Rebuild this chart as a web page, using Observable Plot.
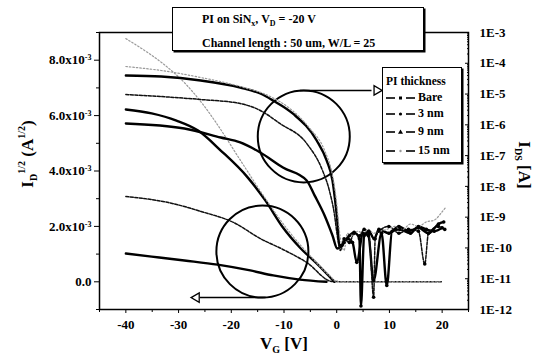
<!DOCTYPE html>
<html><head><meta charset="utf-8">
<script src="https://cdn.jsdelivr.net/npm/d3@7"></script>
<script src="https://cdn.jsdelivr.net/npm/@observablehq/plot@0.6"></script>
<style>
body{margin:0;background:#fff;}
#wrap{position:relative;width:550px;height:357px;font-family:"Liberation Serif","Times New Roman",serif;font-weight:bold;}
#wrap svg{position:absolute;left:0;top:0;}
.box{position:absolute;background:#fff;border:1.5px solid #000;box-shadow:1.5px 1.5px 0 #000;box-sizing:border-box;}
.ln{position:absolute;white-space:nowrap;font-size:12px;line-height:12px;}
.ln sub{font-size:8px;vertical-align:-3px;line-height:0;}
</style></head><body><div id="wrap"></div>
<script>
// ---------- data ----------
const thickness = ["Bare", "3 nm", "9 nm", "15 nm"];

// log-scale transfer curves, I_DS [A] (right axis)
const logBareV = [-40,-28.9,-22,-18.3,-14.5,-10.2,-5.7,-4.2,-2.3,-0.8,0.1,1.0,2.0,3.0,3.8,5.0,6.0,7.0,8.5,9.5,10.5,12.0,14.0,15.5,17.0,18.5,20.0];
const logBareI = [1.11e-6,7.6e-7,3.88e-7,2.67e-7,1.26e-7,4.1e-8,1.56e-8,5.1e-9,1.13e-9,2.54e-10,9.6e-11,1.2e-10,2e-10,1.5e-10,3.4e-11,3e-10,2.5e-10,8.7e-12,3e-10,6e-12,3.5e-10,4e-10,3e-10,5e-10,4e-10,3.5e-10,4.5e-10];
const log3V = [-40,-33.3,-25.8,-18.3,-14.5,-10.8,-5.7,-2.7,-1.4,-0.4,0.1,0.7,1.4,2.4,3.3,4.3,5.2,6.1,7.0,7.3,8.0,9.9,11.8,13.6,15.5,16.7,17.4,19.3,20.5];
const log3I = [9.7e-6,8.3e-6,6.65e-6,4.93e-6,2.92e-6,1.11e-6,2.48e-7,3.3e-8,7.4e-9,1.13e-9,2.54e-10,8.3e-11,2e-10,1.5e-10,3e-10,2.5e-10,4e-10,3e-10,2.5e-12,2e-10,3.5e-10,5e-10,3e-10,4e-10,3.5e-10,3e-11,3e-10,5e-10,4e-10];
const log9V = [-40,-33.3,-25.8,-18.3,-14.5,-12.1,-8.3,-3.8,-1.9,-0.8,-0.3,0.1,0.5,1.4,2.4,3.3,4.3,4.6,5.2,6.1,7.1,8.0,9.9,11.8,13.6,15.5,17.4,19.3,20.3];
const log9I = [4.0e-5,3.7e-5,2.75e-5,1.63e-5,1.04e-5,6.2e-6,2.3e-6,3.1e-7,6.9e-8,1.56e-8,3.5e-9,7.8e-10,1.2e-10,1.5e-10,2.5e-10,3.2e-10,2e-10,1.3e-12,2.5e-10,3.5e-10,2e-10,4e-10,3e-10,5e-10,3.5e-10,4.5e-10,3e-10,6e-10,7e-10];
const log15V = [-40,-33.3,-25.8,-18.3,-12.6,-8.9,-5.1,-2.3,-0.8,-0.06,0.5,1.4,2.0,3.0,4.0,5.0,6.0,7.0,8.0,9.5,11.0,12.5,14.0,15.5,17.0,18.5,20.0,20.6];
const log15I = [7.85e-5,5.82e-5,3.45e-5,1.76e-5,8.3e-6,3.4e-6,7.6e-7,1.47e-7,2.26e-8,3.5e-9,3.7e-10,8.3e-11,3e-10,2.5e-10,3.5e-10,3e-10,4e-10,3e-10,3.5e-10,4e-10,5e-10,4e-10,6e-10,5e-10,7e-10,8e-10,1.5e-9,2e-9];

// square-root curves, I_D^1/2 [A^1/2] (left axis)
const sqrtBareV = [-40,-35.1,-28.9,-22.6,-16.4,-12.05,-7,-1.94];
const sqrtBareS = [1.02e-3,0.91e-3,0.77e-3,0.62e-3,0.41e-3,0.23e-3,0.08e-3,0];
const sqrt3V = [-40,-31.9,-25.75,-19.55,-14.5,-9.8,-5.7,-0.8,5,10,15,20];
const sqrt3S = [3.08e-3,2.86e-3,2.54e-3,2.14e-3,1.56e-3,1.13e-3,0.70e-3,0.01e-3,0,0,0,0];
const sqrt9V = [-40,-35.1,-30.4,-26.3,-22,-16.9,-13.55,-10.2,-7,-3.8,-0.44];
const sqrt9S = [6.22e-3,6.08e-3,5.82e-3,5.46e-3,4.74e-3,3.77e-3,2.94e-3,1.96e-3,1.24e-3,0.66e-3,0];
const sqrt15V = [-40,-37,-33.25,-28.9,-25.2,-22.9,-18.25,-13.55,-8.9,-5.1,-1.4,0.1,5,10,15,20];
const sqrt15S = [8.78e-3,8.42e-3,7.92e-3,7.19e-3,6.36e-3,5.75e-3,4.38e-3,3.01e-3,1.78e-3,0.95e-3,0.23e-3,0,0,0,0,0];

// axes
const xTicks = [-40,-30,-20,-10,0,10,20];
const xMinor = [-45,-35,-25,-15,-5,5,15,25];
const leftTicks = [0,2e-3,4e-3,6e-3,8e-3];
const leftMinor = [-1e-3,1e-3,3e-3,5e-3,7e-3,9e-3];
const rightTicks = [1e-3,1e-4,1e-5,1e-6,1e-7,1e-8,1e-9,1e-10,1e-11,1e-12];

// annotations (circles and arrows)
const circleV = [-6.25, -14.1];
const circleS = [5.25e-3, 1.09e-3];
const arrowFrom = [-7, -13.5];
const arrowTo = [6.6, -26];
const arrowHead = [7.6, -26.6];
const arrowS = [6.91e-3, -0.57e-3];
const arrowRot = [90, -90];

// ---------- styles ----------
const st = {
  "Bare":  {stroke:"#000", w:2.4, dash:null},
  "3 nm":  {stroke:"#111", w:1.5, dash:"3,1.5"},
  "9 nm":  {stroke:"#000", w:2.4, dash:null},
  "15 nm": {stroke:"#9a9a9a", w:1.2, dash:"1.5,2"}
};
const rows = (n, vs, ys) => vs.map((v,i) => ({thickness:n, vg:v, val:ys[i]}));
const W = 550, H = 357, M = {left:99, right:82, top:32, bottom:48};
const font = {fontFamily:'"Liberation Serif","Times New Roman",serif', fontSize:"13px", fontWeight:"bold", background:"transparent", overflow:"visible", color:"#000"};

const sqrtSeries = [["Bare",sqrtBareV,sqrtBareS],["3 nm",sqrt3V,sqrt3S],["9 nm",sqrt9V,sqrt9S],["15 nm",sqrt15V,sqrt15S]];
const logSeries = [["Bare",logBareV,logBareI],["3 nm",log3V,log3I],["9 nm",log9V,log9I],["15 nm",log15V,log15I]];

const circles = circleV.map((v,i) => ({v, s:circleS[i]}));
const arrows = arrowFrom.map((v,i) => ({x1:v, x2:arrowTo[i], hx:arrowHead[i], s:arrowS[i], rot:arrowRot[i]}));

const chart1 = Plot.plot({
  width:W, height:H, marginLeft:M.left, marginRight:M.right, marginTop:M.top, marginBottom:M.bottom,
  style: font,
  x:{domain:[-45,25]},
  y:{domain:[-1e-3,9e-3]},
  marks:[
    ...sqrtSeries.map(([n,v,s]) => Plot.line(rows(n,v,s), {x:"vg", y:"val", stroke:st[n].stroke, strokeWidth:st[n].w, strokeDasharray:st[n].dash, curve:"monotone-x"})),
    Plot.dot(circles, {x:"v", y:"s", r:46, stroke:"#000", strokeWidth:2, fill:"none"}),
    Plot.link(arrows, {x1:"x1", x2:"x2", y1:"s", y2:"s", stroke:"#000", strokeWidth:1.5}),
    Plot.dot(arrows, {x:"hx", y:"s", symbol:"triangle", r:3.5, rotate:"rot", fill:"#fff", stroke:"#000", strokeWidth:1.3}),
    Plot.frame({stroke:"#000", strokeWidth:1.5}),
    Plot.axisX({ticks:xTicks, tickSize:4, tickPadding:6, tickFormat:d => String(d), label:null}),
    Plot.axisX({ticks:xMinor, tickSize:3, tickFormat:() => "", label:null}),
    Plot.axisY({ticks:leftTicks, tickSize:5, tickPadding:3, tickFormat:d => d === 0 ? "0.0" : (d*1e3).toFixed(1) + "x10^-3", label:null}),
    Plot.axisY({ticks:leftMinor, tickSize:3, tickFormat:() => "", label:null})
  ]
});

const chart2 = Plot.plot({
  width:W, height:H, marginLeft:M.left, marginRight:M.right, marginTop:M.top, marginBottom:M.bottom,
  style: font,
  x:{domain:[-45,25], axis:null},
  y:{type:"log", domain:[1e-12,1e-3]},
  marks:[
    ...logSeries.map(([n,v,s]) => Plot.line(rows(n,v,s), {x:"vg", y:"val", stroke:st[n].stroke, strokeWidth:st[n].w, strokeDasharray:st[n].dash, curve:"monotone-x"})),
    ...logSeries.filter(([n]) => n !== "15 nm").map(([n,v,s]) => Plot.dot(rows(n,v,s).filter(d => d.vg > 0.8), {x:"vg", y:"val", r:1.8, fill:"#000"})),
    Plot.axisY({anchor:"right", ticks:rightTicks, tickSize:-4, tickPadding:15, tickFormat:d => "1E" + Math.round(Math.log10(d)), label:null}),
    Plot.axisY({anchor:"right", ticks:d3.range(-12,-3).flatMap(e => d3.range(2,10).map(k => k*Math.pow(10,e))), tickSize:-2, tickFormat:() => "", label:null})
  ]
});

const wrap = document.getElementById("wrap");
wrap.appendChild(chart1);
wrap.appendChild(chart2);

// superscripts in left tick labels
d3.select(chart1).selectAll("text").each(function() {
  const t = this.textContent;
  if (t.includes("^")) {
    const [base, sup] = t.split("^");
    const el = d3.select(this);
    el.text(base);
    el.append("tspan").attr("dy", "-0.5em").attr("font-size", "8px").text(sup);
  }
});

// axis titles
const s1 = d3.select(chart2);
const tfont = (sel, size) => sel.attr("font-family", '"Liberation Serif","Times New Roman",serif').attr("font-weight", "bold").attr("font-size", size).attr("fill", "#000");
const lt = tfont(s1.append("text"), "17px").attr("text-anchor", "middle").attr("transform", "translate(33,154) rotate(-90)");
lt.append("tspan").text("I");
lt.append("tspan").attr("font-size", "10px").attr("dy", 4).text("D");
lt.append("tspan").attr("font-size", "10px").attr("dy", -12).text("1/2");
lt.append("tspan").attr("dy", 8).text(" (A");
lt.append("tspan").attr("font-size", "10px").attr("dy", -8).text("1/2");
lt.append("tspan").attr("dy", 8).text(")");

const rt = tfont(s1.append("text"), "17px").attr("text-anchor", "middle").attr("transform", "translate(519,165) rotate(90)");
rt.append("tspan").text("I");
rt.append("tspan").attr("font-size", "10px").attr("dy", 4).text("DS");
rt.append("tspan").attr("dy", -4).text(" [A]");

const bt = tfont(s1.append("text"), "17px").attr("text-anchor", "middle").attr("transform", "translate(284,349)");
bt.append("tspan").text("V");
bt.append("tspan").attr("font-size", "10px").attr("dy", 4).text("G");
bt.append("tspan").attr("dy", -4).text(" [V]");

// title box
const tb = document.createElement("div");
tb.className = "box";
tb.style.cssText = "left:172px;top:7px;width:252px;height:44px;";
tb.innerHTML = '<div class="ln" style="left:29px;top:5px">PI on SiN<sub>x</sub>, V<sub>D</sub> = -20 V</div>' +
               '<div class="ln" style="left:29px;top:29px">Channel length : 50 um, W/L = 25</div>';
wrap.appendChild(tb);

// legend box
const lg = document.createElement("div");
lg.className = "box";
lg.style.cssText = "left:382px;top:67px;width:80px;height:96px;";
const markers = {
  "Bare": '<rect x="13" y="-1.5" width="3" height="3" fill="#000"/>',
  "3 nm": '<circle cx="14.5" cy="0" r="1.6" fill="#000"/>',
  "9 nm": '<path d="M14.5,-2.5 L17,1.8 L12,1.8 Z" fill="#000"/>',
  "15 nm": '<circle cx="14.5" cy="0" r="1.2" fill="#999"/>'
};
const rowsY = [30, 46, 64, 83];
let html = '<div class="ln" style="left:3px;top:7px;font-size:11.5px">PI thickness</div>';
html += '<svg width="80" height="96" style="position:absolute;left:0;top:0">';
thickness.forEach((n,i) => {
  html += `<g transform="translate(3,${rowsY[i]})"><line x1="0" x2="9" y1="0" y2="0" stroke="#000" stroke-width="1.6"/><line x1="20" x2="29" y1="0" y2="0" stroke="#000" stroke-width="1.6"/>${markers[n]}</g>`;
});
html += '</svg>';
thickness.forEach((n,i) => {
  html += `<div class="ln" style="left:35px;top:${rowsY[i]-7}px;font-size:12px">${n}</div>`;
});
lg.innerHTML = html;
wrap.appendChild(lg);
</script>
</body></html>
